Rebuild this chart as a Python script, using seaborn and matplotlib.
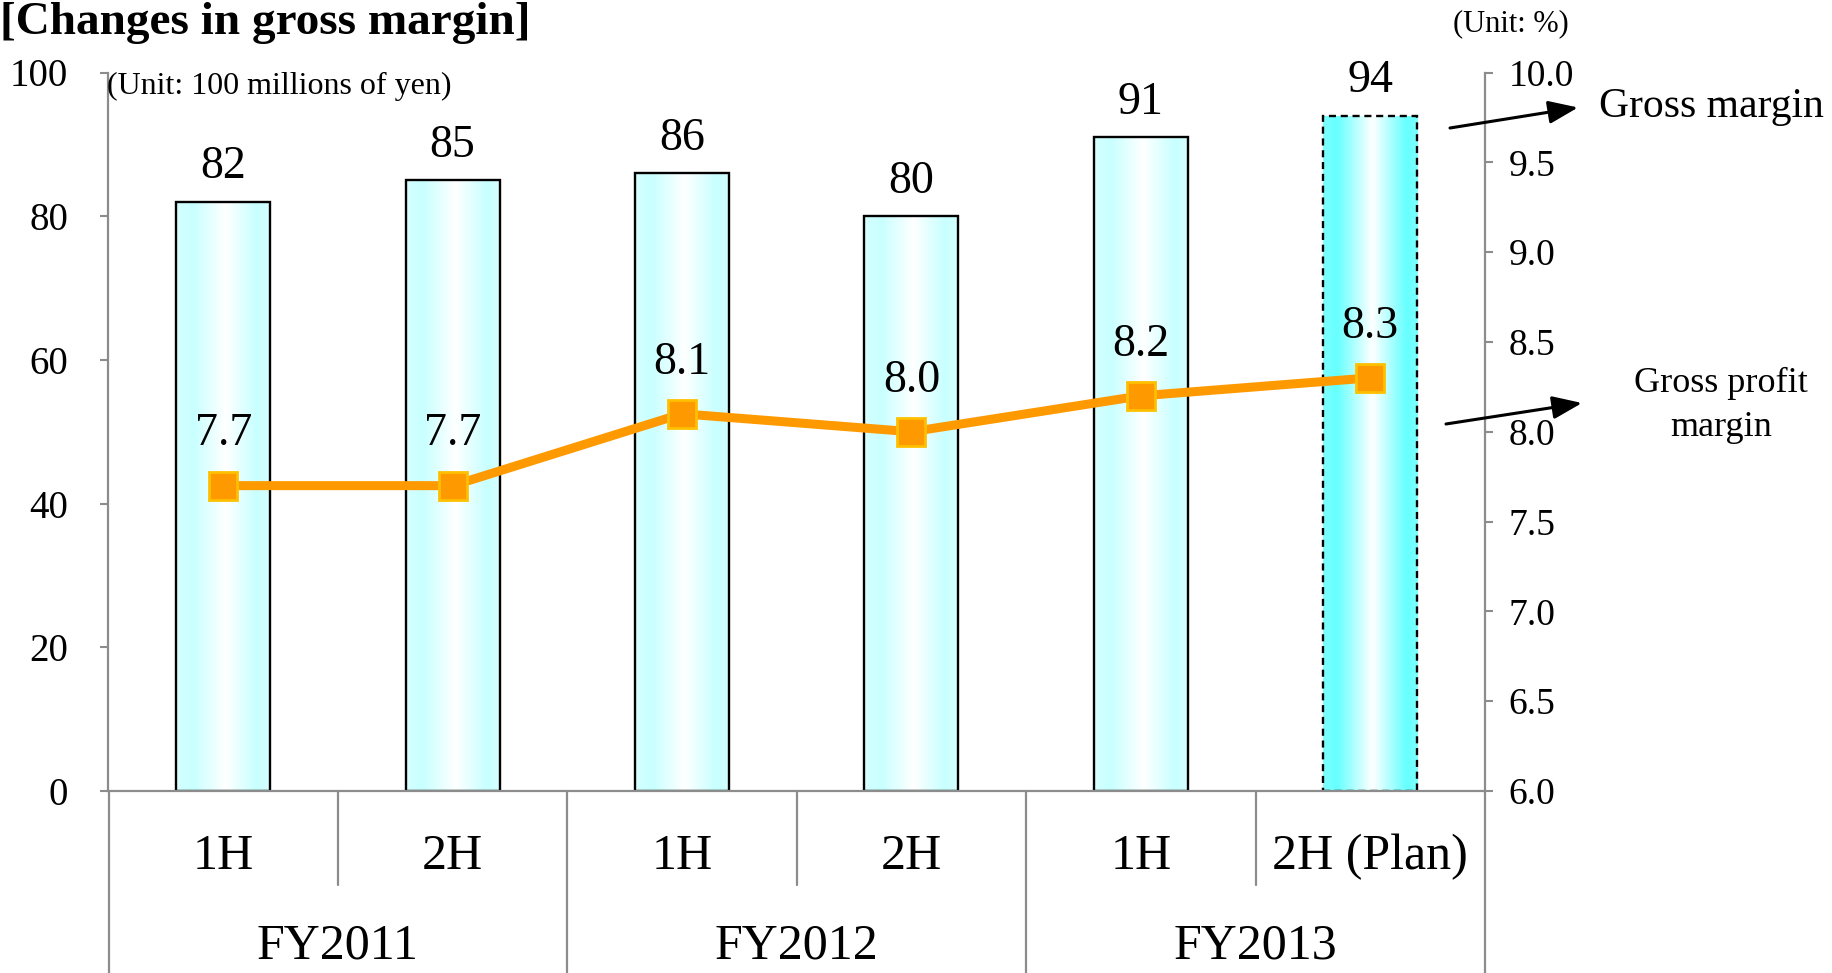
import numpy as np
import pandas as pd
import matplotlib
matplotlib.use("Agg")
import matplotlib.pyplot as plt
from matplotlib.colors import LinearSegmentedColormap
from matplotlib.transforms import blended_transform_factory
import seaborn as sns

# ---- data ----
fiscal_years = ["FY2011", "FY2011", "FY2012", "FY2012", "FY2013", "FY2013"]
halves = ["1H", "2H", "1H", "2H", "1H", "2H (Plan)"]
gross_margin = [82, 85, 86, 80, 91, 94]          # 100 millions of yen
gross_profit_margin = [7.7, 7.7, 8.1, 8.0, 8.2, 8.3]  # %
is_plan = [False, False, False, False, False, True]
left_ticks = [0, 20, 40, 60, 80, 100]
right_ticks = [6.0, 6.5, 7.0, 7.5, 8.0, 8.5, 9.0, 9.5, 10.0]

df = pd.DataFrame({
    "period": [f"{fy} {h}" for fy, h in zip(fiscal_years, halves)],
    "fy": fiscal_years,
    "half": halves,
    "margin": gross_margin,
    "gpm": gross_profit_margin,
    "plan": is_plan,
})
df["pos"] = np.arange(len(df))

sns.set_theme(style="white")
plt.rcParams["font.family"] = ["Liberation Serif", "DejaVu Serif"]
plt.rcParams["text.color"] = "black"

W, H = 1833, 973
fig = plt.figure(figsize=(W / 100, H / 100), dpi=100)
ax_left, ax_right, ax_top, ax_bot = 108.5, 1485, 72.5, 791
ax = fig.add_axes([ax_left / W, 1 - ax_bot / H, (ax_right - ax_left) / W, (ax_bot - ax_top) / H])

GRAY = "#8c8c8c"

# ---- bars ----
sns.barplot(data=df, x="period", y="margin", ax=ax, width=0.41,
            color="white", edgecolor="black", linewidth=1.7, zorder=2)
ax.set_xlim(-0.5, len(df) - 0.5)
ax.set_ylim(0, 100)

soft = LinearSegmentedColormap.from_list(
    "soft", [(0, "#d6ffff"), (0.18, "#c8ffff"), (0.52, "#ffffff"), (0.85, "#c8ffff"), (1, "#d6ffff")])
strong = LinearSegmentedColormap.from_list(
    "strong", [(0, "#7dffff"), (0.15, "#66ffff"), (0.52, "#ffffff"), (0.88, "#66ffff"), (1, "#7dffff")])
grad = np.linspace(0, 1, 256).reshape(1, -1)
for patch, plan, val in zip(ax.patches, df["plan"], df["margin"]):
    x0, y0 = patch.get_x(), patch.get_y()
    w, h = patch.get_width(), patch.get_height()
    im = ax.imshow(grad, cmap=strong if plan else soft, aspect="auto",
                   extent=(x0, x0 + w, y0, y0 + h), zorder=1.5, interpolation="bicubic")
    im.set_clip_path(patch)
    patch.set_facecolor("none")
    if plan:
        patch.set_linestyle((0, (3, 2)))
    ax.annotate(f"{val}", (x0 + w / 2, y0 + h), xytext=(0, 25), textcoords="offset points",
                ha="center", va="center", fontsize=33, color="black")

# ---- line on secondary axis ----
ax2 = ax.twinx()
sns.lineplot(data=df, x="pos", y="gpm", ax=ax2, color="#ff9900", linewidth=6.5,
             marker="s", markersize=20, markerfacecolor="#ff9900",
             markeredgecolor="#ffc000", markeredgewidth=2, zorder=3)
ax2.set_ylim(6.0, 10.0)
ax2.set_xlim(-0.5, len(df) - 0.5)
for x, v in zip(df["pos"], df["gpm"]):
    ax2.annotate(f"{v:.1f}", (x, v), xytext=(0, 37), textcoords="offset points",
                 ha="center", va="center", fontsize=33, color="black")

# ---- axes styling ----
for a in (ax, ax2):
    a.set_xlabel("")
    a.set_ylabel("")
    a.grid(False)
    for s in a.spines.values():
        s.set_color(GRAY)
        s.set_linewidth(1.6)
    a.spines["top"].set_visible(False)

ax.set_yticks(left_ticks)
ax.set_yticklabels([str(t) for t in left_ticks])
ax.tick_params(axis="y", which="major", direction="out", length=6, width=1.5,
               color=GRAY, labelsize=28, pad=23, left=True, labelcolor="black")
ax.set_xticks([])
ax2.set_xticks([])
ax2.set_yticks(right_ticks)
ax2.set_yticklabels([f"{t:.1f}" for t in right_ticks])
ax2.tick_params(axis="y", which="major", direction="out", length=6, width=1.5,
                color=GRAY, labelsize=27, pad=11, right=True, labelcolor="black")
ax.spines["right"].set_visible(False)
ax2.spines["left"].set_visible(False)
ax2.spines["bottom"].set_visible(False)

# ---- two-level category axis ----
trans = blended_transform_factory(ax.transData, ax.transAxes)
n = len(df)
for i in range(n + 1):
    xb = i - 0.5
    if i in (0, n) or df["fy"].iloc[i - 1] != df["fy"].iloc[i]:
        ax.plot([xb, xb], [0, -0.255], transform=trans, color=GRAY, lw=1.6, clip_on=False)
    else:
        ax.plot([xb, xb], [0, -0.131], transform=trans, color=GRAY, lw=1.6, clip_on=False)
for x, h in zip(df["pos"], df["half"]):
    ax.text(x, -0.092, h, transform=trans, ha="center", va="center", fontsize=36)
for fy, grp in df.groupby("fy", sort=False):
    ax.text(grp["pos"].mean(), -0.216, fy, transform=trans, ha="center", va="center", fontsize=36)

# ---- titles and notes ----
fig.text(0.0, 1 - 23 / H, "[Changes in gross margin]", ha="left", va="center",
         fontsize=34, fontweight="bold")
fig.text(107.5 / W, 1 - 86.5 / H, "(Unit: 100 millions of yen)", ha="left", va="center", fontsize=23)
fig.text(1453 / W, 1 - 23.4 / H, "(Unit: %)", ha="left", va="center", fontsize=22)
fig.text(1599 / W, 1 - 106.4 / H, "Gross margin", ha="left", va="center", fontsize=30)
fig.text(1721 / W, 1 - 405.5 / H, "Gross profit\nmargin", ha="center", va="center",
         fontsize=26, linespacing=1.45)

arrow_style = dict(arrowstyle="-|>,head_length=0.9,head_width=0.35", color="black", lw=2.2,
                   shrinkA=0, shrinkB=0)
fig.add_artist(matplotlib.patches.FancyArrowPatch(
    (1450 / W, 1 - 128 / H), (1578 / W, 1 - 107.5 / H), transform=fig.transFigure,
    mutation_scale=20, **arrow_style))
fig.add_artist(matplotlib.patches.FancyArrowPatch(
    (1446 / W, 1 - 424 / H), (1582 / W, 1 - 403 / H), transform=fig.transFigure,
    mutation_scale=20, **arrow_style))

fig.savefig("out.png", dpi=100, facecolor="white")
